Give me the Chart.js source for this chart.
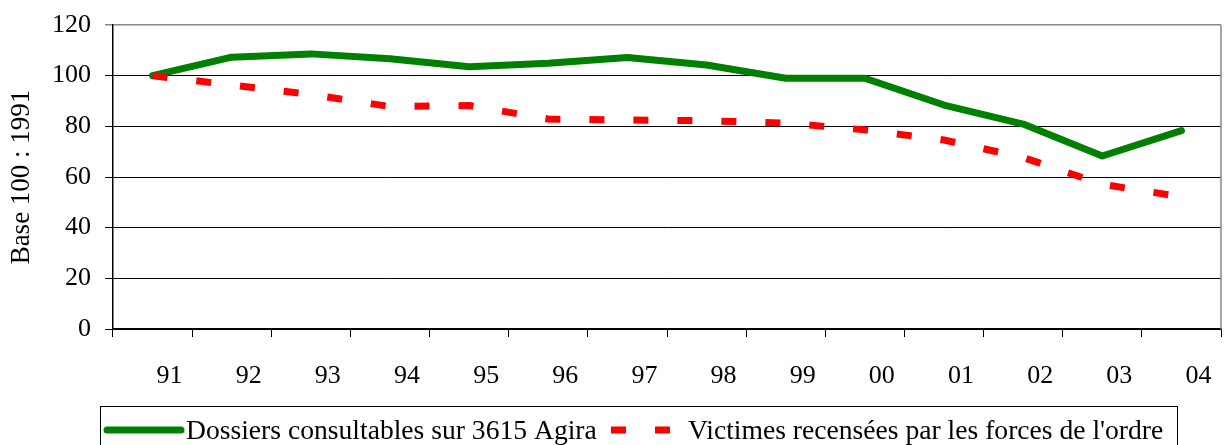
<!DOCTYPE html>
<html>
<head>
<meta charset="utf-8">
<script src="https://cdn.jsdelivr.net/npm/chart.js@4"></script>
<style>
  html, body { margin: 0; padding: 0; background: #fff; }
  #wrap { width: 1224px; height: 445px; }
</style>
</head>
<body>
<div id="wrap"><canvas id="c"></canvas></div>
<script>
// years (two digit labels)
const years = ["91", "92", "93", "94", "95", "96", "97", "98", "99", "00", "01", "02", "03", "04"];
// base 100 = 1991
const dossiers = [100, 107.3, 108.6, 106.7, 103.5, 104.9, 107.2, 104.2, 99, 99, 88.4, 80.9, 68.3, 78.3];
const victimes = [100, 96.3, 92.6, 87.8, 88.2, 82.9, 82.5, 82.2, 81.3, 78.6, 74.6, 67.7, 57.1, 52.2];
const yTicks = [0, 20, 40, 60, 80, 100, 120];

const serif = "'Liberation Serif', 'Times New Roman', serif";

//Draws the boxed legend under the axis, and the grey right edge of the plot
const frame = {
  id: "frame",
  afterDraw(chart) {
    const ctx = chart.ctx;
    const a = chart.chartArea;
    ctx.save();
    ctx.strokeStyle = "#888";
    ctx.lineWidth = 1.5;
    ctx.beginPath();
    ctx.moveTo(a.right, a.top);
    ctx.lineTo(a.right, a.bottom);
    ctx.stroke();

    // legend box
    ctx.strokeStyle = "#000";
    ctx.lineWidth = 1;
    ctx.strokeRect(100.5, 406.5, 1077, 60);

    const y = 430;
    const ds = chart.data.datasets;
    ctx.font = "27.6px " + serif;
    ctx.fillStyle = "#000";
    ctx.textBaseline = "middle";

    // green sample
    ctx.strokeStyle = ds[0].borderColor;
    ctx.lineWidth = 7;
    ctx.lineCap = "round";
    ctx.beginPath();
    ctx.moveTo(107, y);
    ctx.lineTo(181, y);
    ctx.stroke();
    ctx.fillText(ds[0].label, 186, y + 2);

    // red dashed sample
    ctx.strokeStyle = ds[1].borderColor;
    ctx.lineCap = "butt";
    ctx.setLineDash([15, 29]);
    ctx.beginPath();
    ctx.moveTo(611, y);
    ctx.lineTo(671, y);
    ctx.stroke();
    ctx.setLineDash([]);
    ctx.fillText(ds[1].label, 688, y + 2);
    ctx.restore();
  }
};

new Chart(document.getElementById("c"), {
  type: "line",
  data: {
    labels: years,
    datasets: [
      {
        label: "Dossiers consultables sur 3615 Agira",
        data: dossiers,
        borderColor: "#008000",
        borderWidth: 7,
        borderCapStyle: "round",
        borderJoinStyle: "round",
        pointRadius: 0,
        tension: 0,
        order: 1
      },
      {
        label: "Victimes recensées par les forces de l'ordre",
        data: victimes,
        borderColor: "#ff0000",
        borderWidth: 7,
        borderDash: [15, 29],
        borderCapStyle: "butt",
        pointRadius: 0,
        tension: 0,
        order: 0
      }
    ]
  },
  options: {
    responsive: true,
    maintainAspectRatio: false,
    animation: false,
    layout: { padding: { top: 25, right: 3, left: 0, bottom: 56 } },
    plugins: {
      legend: { display: false },
      tooltip: { enabled: false }
    },
    scales: {
      x: {
        offset: true,
        afterFit: (s) => { s.height = 60; s.paddingLeft = 0; s.paddingRight = 0; },
        grid: {
          offset: true,
          drawOnChartArea: false,
          drawTicks: true,
          tickLength: 8,
          color: "#000",
          lineWidth: 1
        },
        border: { color: "#000", width: 1.5 },
        ticks: {
          color: "#000",
          font: { family: serif, size: 26 },
          padding: 24,
          labelOffset: 17,
          maxRotation: 0,
          autoSkip: false
        }
      },
      y: {
        min: 0,
        max: 120,
        afterFit: (s) => { s.width = 113; s.paddingTop = 0; s.paddingBottom = 0; },
        afterBuildTicks: (s) => { s.ticks = yTicks.map(v => ({ value: v })); },
        grid: {
          color: (c) => (c.tick && c.tick.value === 120 ? "#888" : "#000"),
          lineWidth: (c) => (c.tick && c.tick.value === 120 ? 1.5 : 1),
          tickLength: 8,
          drawTicks: true
        },
        border: { color: "#000", width: 1.5 },
        ticks: {
          color: "#000",
          font: { family: serif, size: 26 },
          padding: 14
        },
        title: {
          display: true,
          text: "Base 100 : 1991",
          color: "#000",
          font: { family: serif, size: 27 },
          padding: { top: 6, bottom: 0 }
        }
      }
    }
  },
  plugins: [frame]
});
</script>
</body>
</html>
